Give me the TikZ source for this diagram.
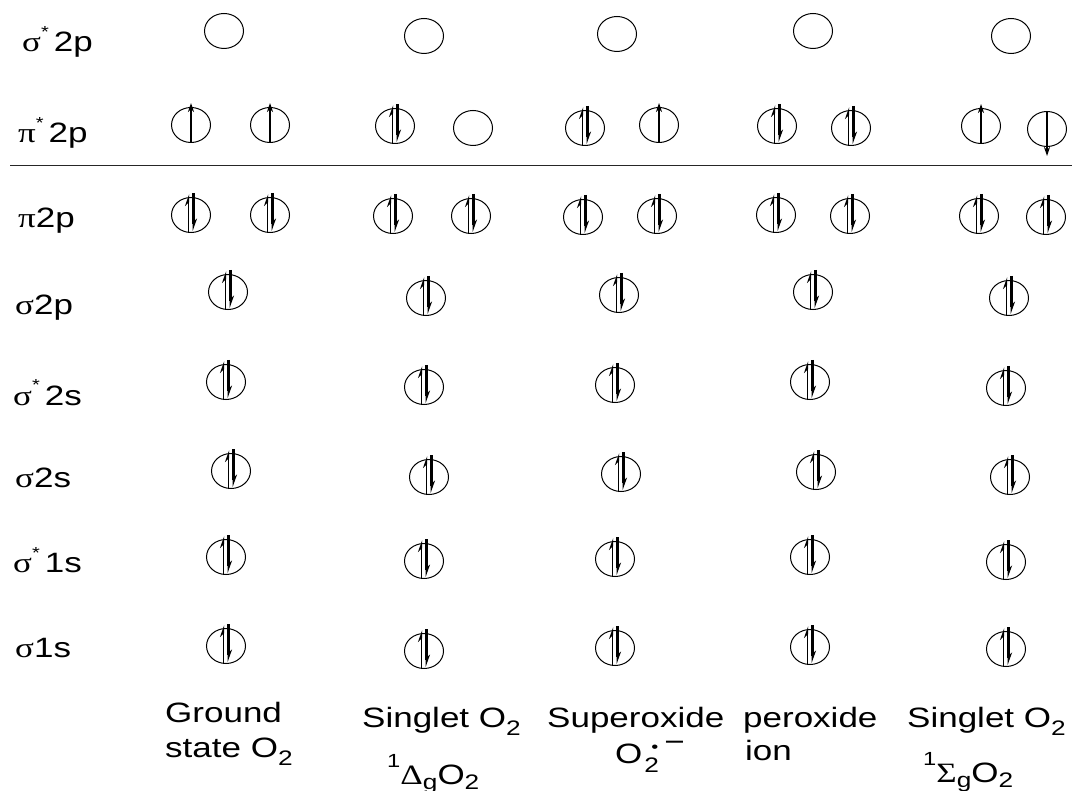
\documentclass[tikz,border=0pt]{standalone}
\usepackage{fontspec}
\setmainfont{Liberation Sans}[FakeStretch=1.25]
\newfontfamily\gk{Liberation Serif}[FakeStretch=1.25]
\usetikzlibrary{shapes.geometric,arrows.meta}
\newcommand{\sbs}[1]{\raisebox{-8pt}{\fontsize{21}{21}\selectfont #1}}
\newcommand{\sbg}[1]{\raisebox{-5pt}{\fontsize{21}{21}\selectfont #1}}
\newcommand{\sps}[1]{\raisebox{17pt}{\fontsize{19}{19}\selectfont #1}}
\newcommand{\strs}{\raisebox{14pt}{\fontsize{16}{16}\selectfont *}}
\newcommand{\eup}[1]{\draw[spin] ([yshift=1pt]#1.south) -- ([yshift=4pt]#1.north);}
\newcommand{\edn}[1]{\draw[spin] ([yshift=-1pt]#1.north) -- ([yshift=-9pt]#1.south);}
\newcommand{\epair}[1]{\draw[hup] ([xshift=-2.5pt]#1.south) -- ([xshift=-2.5pt,yshift=3pt]#1.north);
  \draw[hdn] ([xshift=2.5pt,yshift=4pt]#1.north) -- ([xshift=2.5pt,yshift=2pt]#1.south);}
\begin{document}
\begin{tikzpicture}[x=1pt,y=-1pt,
  orb/.style={draw, ellipse, minimum width=39pt, minimum height=35pt, inner sep=0pt, line width=1pt},
  spin/.style={line width=1.9pt, -{Stealth[length=9pt,width=6pt]}},
  hup/.style={line width=1.4pt, -{Stealth[harpoon,length=10pt,width=7pt]}},
  hdn/.style={line width=2.1pt, -{Stealth[harpoon,length=10pt,width=7pt]}},
  lbl/.style={anchor=base west, inner sep=0pt, font=\fontsize{28}{34}\selectfont}]
\useasboundingbox (0,0) rectangle (1084,791);
\fill[white] (0,0) rectangle (1084,791);

% left labels
\node[lbl] (Lsa) at (22,52) {{\gk σ}\strs\hspace{5pt}2p};
\node[lbl] (Lpa) at (18,143) {{\gk π}\strs\hspace{5pt}2p};
\node[lbl] (Lpb) at (18,228) {{\gk π}2p};
\node[lbl] (Lsb) at (15,315) {{\gk σ}2p};
\node[lbl] (Lsc) at (13,405) {{\gk σ}\strs\hspace{5pt}2s};
\node[lbl] (Lsd) at (15,487) {{\gk σ}2s};
\node[lbl] (Lse) at (13,572) {{\gk σ}\strs\hspace{5pt}1s};
\node[lbl] (Lsf) at (15,657) {{\gk σ}1s};

% separator
\coordinate (lineL) at (10,166);
\coordinate (lineR) at (1072,166);
\draw[line width=1pt, black!85] (lineL) -- (lineR);

% sigma* 2p (empty)
\node[orb] (sa1) at (224,31) {};
\node[orb] (sa2) at (424,36) {};
\node[orb] (sa3) at (617,34) {};
\node[orb] (sa4) at (813,31) {};
\node[orb] (sa5) at (1011,36) {};

% pi* 2p
\node[orb] (pa1a) at (191,125) {};
\node[orb] (pa1b) at (270,125) {};
\node[orb] (pa2a) at (395,126) {};
\node[orb] (pa2b) at (473,128) {};
\node[orb] (pa3a) at (585,128) {};
\node[orb] (pa3b) at (659,125) {};
\node[orb] (pa4a) at (777,126) {};
\node[orb] (pa4b) at (851,128) {};
\node[orb] (pa5a) at (981,126) {};
\node[orb] (pa5b) at (1047,129) {};
\eup{pa1a} \eup{pa1b}
\epair{pa2a}
\epair{pa3a} \eup{pa3b}
\epair{pa4a} \epair{pa4b}
\eup{pa5a} \edn{pa5b}

% pi 2p
\node[orb] (pb1a) at (191,215) {};
\node[orb] (pb1b) at (270,215) {};
\node[orb] (pb2a) at (393,216) {};
\node[orb] (pb2b) at (471,216) {};
\node[orb] (pb3a) at (583,217) {};
\node[orb] (pb3b) at (657,216) {};
\node[orb] (pb4a) at (776,215) {};
\node[orb] (pb4b) at (850,216) {};
\node[orb] (pb5a) at (979,216) {};
\node[orb] (pb5b) at (1046,217) {};
\foreach \n in {pb1a,pb1b,pb2a,pb2b,pb3a,pb3b,pb4a,pb4b,pb5a,pb5b} {\epair{\n}}

% sigma 2p
\node[orb] (sb1) at (228,292) {};
\node[orb] (sb2) at (426,298) {};
\node[orb] (sb3) at (619,295) {};
\node[orb] (sb4) at (813,292) {};
\node[orb] (sb5) at (1009,298) {};
% sigma* 2s
\node[orb] (sc1) at (226,382) {};
\node[orb] (sc2) at (424,387) {};
\node[orb] (sc3) at (615,385) {};
\node[orb] (sc4) at (810,382) {};
\node[orb] (sc5) at (1006,388) {};
% sigma 2s
\node[orb] (sd1) at (231,471) {};
\node[orb] (sd2) at (429,477) {};
\node[orb] (sd3) at (621,474) {};
\node[orb] (sd4) at (816,472) {};
\node[orb] (sd5) at (1010,477) {};
% sigma* 1s
\node[orb] (se1) at (226,557) {};
\node[orb] (se2) at (424,561) {};
\node[orb] (se3) at (615,559) {};
\node[orb] (se4) at (810,557) {};
\node[orb] (se5) at (1006,562) {};
% sigma 1s
\node[orb] (sf1) at (226,646) {};
\node[orb] (sf2) at (424,651) {};
\node[orb] (sf3) at (615,648) {};
\node[orb] (sf4) at (810,647) {};
\node[orb] (sf5) at (1006,649) {};
\foreach \r in {sb,sc,sd,se,sf} {\foreach \c in {1,...,5} {\epair{\r\c}}}

% bottom labels
\node[lbl] (g1) at (165,722) {Ground};
\node[lbl] (g2) at (165,757) {state O\sbs{2}};
\node[lbl] (s1) at (362,727) {Singlet O\sbs{2}};
\node[lbl] (s2) at (387,784) {\sps{1}{\gk Δ}\sbg{g}O\sbg{2}};
\node[lbl] (u1) at (547,727) {Superoxide};
\node[lbl] (u2) at (615,763) {O\makebox[0pt][l]{\hspace{2pt}\raisebox{-9pt}{\fontsize{21}{21}\selectfont 2}}\hspace{9pt}\raisebox{11pt}{\fontsize{16}{16}\selectfont •}\hspace{6pt}\raisebox{12pt}{−}};
\node[lbl] (p1) at (743,727) {peroxide};
\node[lbl] (p2) at (745,760) {ion};
\node[lbl] (t1) at (907,727) {Singlet O\sbs{2}};
\node[lbl] (t2) at (923,782) {\sps{1}{\gk Σ}\sbg{g}O\sbg{2}};
\end{tikzpicture}
\end{document}
